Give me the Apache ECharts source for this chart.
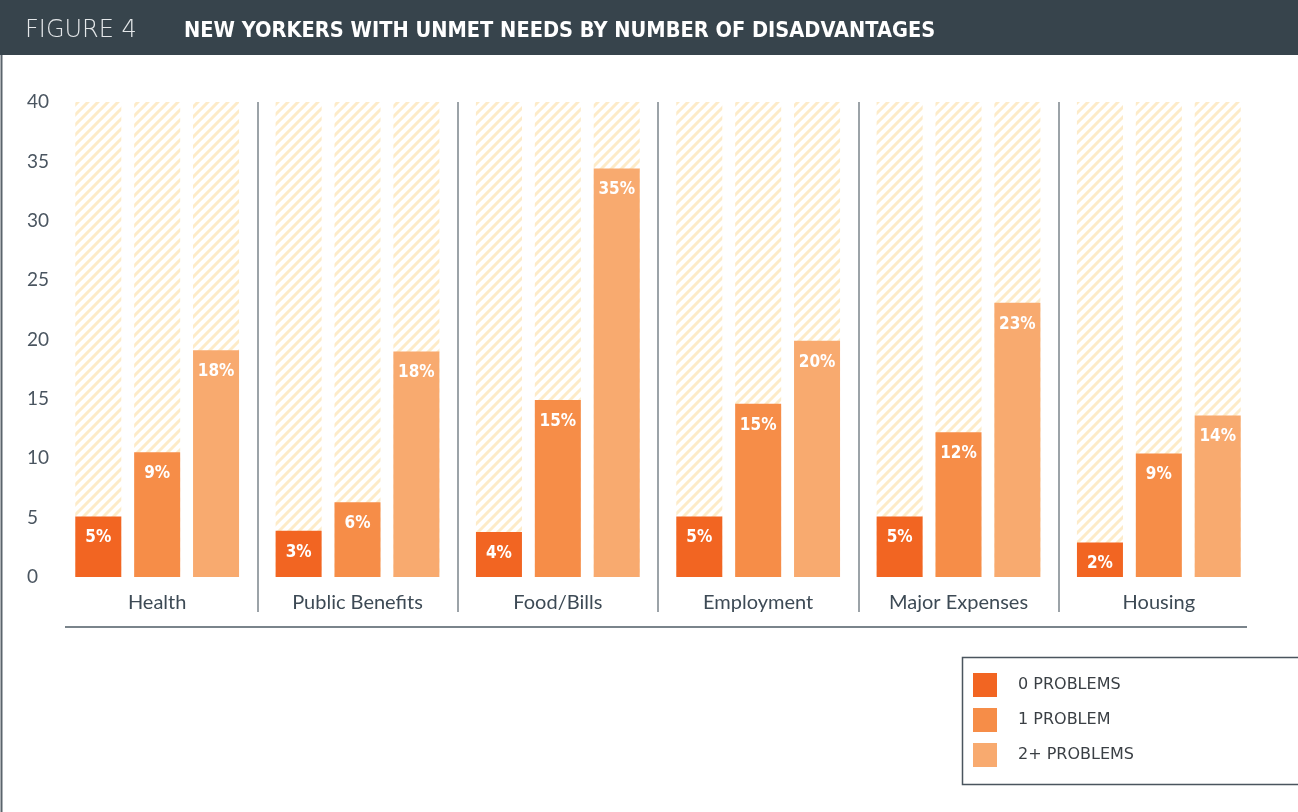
<!DOCTYPE html>
<html>
<head>
<meta charset="utf-8">
<script src="https://cdn.jsdelivr.net/npm/echarts@6/dist/echarts.min.js"></script>
<style>
html,body{margin:0;padding:0;background:#fff;}
#chart{width:1298px;height:812px;}
</style>
</head>
<body>
<div id="chart"></div>
<script>
// ---- data ----
var categories = ['Health', 'Public Benefits', 'Food/Bills', 'Employment', 'Major Expenses', 'Housing'];
var seriesNames = ['0 PROBLEMS', '1 PROBLEM', '2+ PROBLEMS'];
// bar heights as drawn
var zeroProblems = [5.1, 3.9, 3.8, 5.1, 5.1, 2.9];
var oneProblem   = [10.5, 6.3, 14.9, 14.6, 12.2, 10.4];
var twoPlus      = [19.1, 19.0, 34.4, 19.9, 23.1, 13.6];
// printed labels
var zeroLabels = ['5%', '3%', '4%', '5%', '5%', '2%'];
var oneLabels  = ['9%', '6%', '15%', '15%', '12%', '9%'];
var twoLabels  = ['18%', '18%', '35%', '20%', '23%', '14%'];
var yTicks = [0, 5, 10, 15, 20, 25, 30, 35, 40];

var colors = ['#f26522', '#f68d48', '#f8aa6f'];

// hatch pattern
var tile = document.createElement('canvas');
tile.width = 10; tile.height = 10;
var c = tile.getContext('2d');
c.strokeStyle = '#fdebc8';
c.lineWidth = 3;
c.beginPath();
c.moveTo(-1, 1); c.lineTo(1, -1);
c.moveTo(0, 10); c.lineTo(10, 0);
c.moveTo(9, 11); c.lineTo(11, 9);
c.stroke();
var hatch = { image: tile, repeat: 'repeat' };

function barSeries(name, values, labels, color) {
  return {
    name: name,
    type: 'bar',
    xAxisIndex: 0,
    yAxisIndex: 0,
    data: values,
    barWidth: 46,
    barGap: '28%',
    itemStyle: { color: color },
    showBackground: true,
    backgroundStyle: { color: hatch },
    label: {
      show: true,
      position: 'insideTop',
      distance: 13,
      color: '#ffffff',
      fontFamily: 'DejaVu Sans Condensed',
      fontWeight: 'bold',
      fontSize: 17,
      formatter: function (p) { return labels[p.dataIndex]; }
    }
  };
}

var chart = echarts.init(document.getElementById('chart'), null, { renderer: 'canvas' });
chart.setOption({
  backgroundColor: '#ffffff',
  animation: false,
  color: colors,
  title: [
    {
      text: 'FIGURE 4',
      left: 20, top: 14,
      textStyle: { color: '#e4e7e9', fontFamily: 'DejaVu Sans', fontWeight: 200, fontSize: 24 }
    },
    {
      text: 'NEW YORKERS WITH UNMET NEEDS BY NUMBER OF DISADVANTAGES',
      left: 179, top: 15,
      textStyle: { color: '#ffffff', fontFamily: 'DejaVu Sans Condensed', fontWeight: 'bold', fontSize: 21.6 }
    }
  ],
  legend: {
    orient: 'vertical',
    left: 968, top: 668,
    itemWidth: 24, itemHeight: 24, itemGap: 11,
    icon: 'rect',
    data: seriesNames,
    textStyle: { color: '#3a3f44', fontFamily: 'DejaVu Sans', fontSize: 16, padding: [0, 0, 0, 16] }
  },
  grid: [
    { left: 57, right: 39, top: 102, bottom: 235 },
    { left: 57, right: 39, top: 102, bottom: 200 }
  ],
  xAxis: [
    {
      type: 'category', gridIndex: 0, data: categories,
      axisLine: { show: false }, axisTick: { show: false },
      axisLabel: { margin: 16, color: '#3d4a55', fontFamily: 'Lato', fontSize: 20 }
    },
    {
      type: 'value', gridIndex: 1, min: 0, max: 6, interval: 1,
      axisLine: { show: false }, axisTick: { show: false }, axisLabel: { show: false },
      splitLine: { show: true, showMinLine: false, showMaxLine: false, lineStyle: { color: '#7b848b', width: 1.5, type: 'solid' } }
    }
  ],
  yAxis: [
    {
      type: 'value', gridIndex: 0, min: 0, max: 40, interval: 5,
      axisLine: { show: false }, axisTick: { show: false }, splitLine: { show: false },
      axisLabel: {
        align: 'left', margin: 30, color: '#4a5560', fontFamily: 'Lato', fontSize: 19,
        formatter: function (v) { return yTicks.indexOf(v) >= 0 ? String(v) : ''; }
      }
    },
    {
      type: 'value', gridIndex: 1, min: 0, max: 1, show: false
    }
  ],
  graphic: [
    { type: 'rect', z: -1, shape: { x: 0, y: 0, width: 1298, height: 55 }, style: { fill: '#37444c' } },
    { type: 'line', shape: { x1: 1.5, y1: 55, x2: 1.5, y2: 812 }, style: { stroke: '#5a646c', lineWidth: 2 } },
    { type: 'line', shape: { x1: 65, y1: 627, x2: 1247, y2: 627 }, style: { stroke: '#7a848b', lineWidth: 2 } },
    { type: 'rect', shape: { x: 962.5, y: 657.5, width: 400, height: 127 }, style: { fill: 'none', stroke: '#4a555e', lineWidth: 1.5 } }
  ],
  series: [
    barSeries(seriesNames[0], zeroProblems, zeroLabels, colors[0]),
    barSeries(seriesNames[1], oneProblem, oneLabels, colors[1]),
    barSeries(seriesNames[2], twoPlus, twoLabels, colors[2]),
    { type: 'scatter', xAxisIndex: 1, yAxisIndex: 1, data: [], silent: true }
  ]
});
</script>
</body>
</html>
